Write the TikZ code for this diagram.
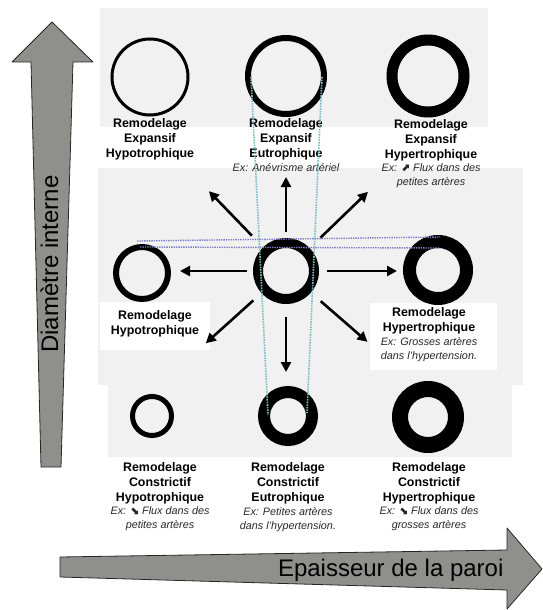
\documentclass[tikz,border=0pt]{standalone}
\usepackage{fontspec}
\setmainfont{Liberation Sans}
\newfontfamily\symbfont{DejaVu Sans}
\usetikzlibrary{positioning,calc,arrows.meta}

\definecolor{axisgray}{RGB}{143,143,139}
\definecolor{scangray}{RGB}{241,241,241}
\definecolor{tealdot}{RGB}{122,190,196}
\definecolor{violetdot}{RGB}{128,128,200}

\newcommand{\remfont}{\fontsize{12.4}{15}\selectfont\bfseries}
\newcommand{\exmplfont}{\fontsize{10.8}{14}\selectfont\itshape}
\newcommand{\axisfont}{\fontsize{24}{28}\selectfont}
\newcommand{\flechehaut}{{\symbfont\upshape\bfseries ⬈}}
\newcommand{\flechebas}{{\symbfont\upshape\bfseries ⬊}}

\begin{document}
\begin{tikzpicture}[x=1pt,y=-1pt,
    ring/.style={circle,draw,inner sep=0pt},
    title/.style={align=center,inner sep=0pt,font=\remfont},
    example/.style={align=center,inner sep=0pt,font=\exmplfont,text=black!85},
    spoke/.style={-{Triangle[length=10pt,width=10pt]},line width=2.6pt},
    axis/.style={fill=axisgray,draw=black!85,line width=0.8pt,line join=round},
    tealline/.style={tealdot,densely dotted,line width=1.6pt},
    violetline/.style={violetdot,densely dotted,line width=1.4pt}]
    \useasboundingbox (0,0) rectangle (542,610);

    % scanned background
    \fill[scangray] (100,8) rectangle (488,127);
    \fill[scangray] (98,168) rectangle (523,385);
    \fill[scangray] (108,385) rectangle (512,457);
    \fill[white] (100,302) rectangle (210,350);
    \fill[white] (370,303) rectangle (497,370);

    % axes
    \draw[axis] (52,22) -- (93,62) -- (73,62) -- (61,467) -- (41,467)
      -- (31,62) -- (12,62) -- cycle;
    \draw[axis] (60,557) -- (507,550) -- (507,528) -- (542,569)
      -- (507,609) -- (507,590) -- (60,577) -- cycle;
    \node[rotate=90,anchor=base,font=\axisfont] (diam) at (58,264) {Diamètre interne};
    \node[anchor=base east,font=\axisfont] (epais) at (507,576) {Epaisseur de la paroi};

    % vessels
    \node[ring,line width=3pt,minimum size=76pt] (exp-hypo) at (150,77) {};
    \node[ring,line width=6pt,minimum size=76pt] (exp-eu) at (286,76) {};
    \node[ring,line width=11pt,minimum size=72pt] (exp-hyper) at (428,76) {};
    \node[ring,line width=6pt,minimum size=52pt] (hypo) at (142,273) {};
    \node[ring,line width=10pt,minimum size=56pt] (norm) at (286,271) {};
    \node[ring,line width=13pt,minimum size=57pt] (hyper) at (438,270) {};
    \node[ring,line width=5pt,minimum size=39pt] (con-hypo) at (152,416) {};
    \node[ring,line width=12pt,minimum size=48pt] (con-eu) at (288,416) {};
    \node[ring,line width=16pt,minimum size=56pt] (con-hyper) at (428,417) {};

    % labels
    \node[title,below=1.5pt of exp-hypo] (exp-hypo-t) {Remodelage\\Expansif\\Hypotrophique};
    \node[title,below=1.5pt of exp-eu] (exp-eu-t) {Remodelage\\Expansif\\Eutrophique};
    \node[title,below=1.5pt of exp-hyper,xshift=3pt] (exp-hyper-t) {Remodelage\\Expansif\\Hypertrophique};
    \node[title,below=8pt of hypo,xshift=13pt] (hypo-t) {Remodelage\\Hypotrophique};
    \node[title,below=2pt of hyper,xshift=-9pt] (hyper-t) {Remodelage\\Hypertrophique};
    \node[title,anchor=north] (con-hypo-t) at (160,462) {Remodelage\\Constrictif\\Hypotrophique};
    \node[title,anchor=north] (con-eu-t) at (288,462) {Remodelage\\Constrictif\\Eutrophique};
    \node[title,anchor=north] (con-hyper-t) at (429,462) {Remodelage\\Constrictif\\Hypertrophique};

    \node[example,below=3pt of exp-eu-t] (exp-eu-ex) {Ex: Anévrisme artériel};
    \node[example,below=3pt of exp-hyper-t] (exp-hyper-ex) {Ex: \flechehaut{} Flux dans des\\petites artères};
    \node[example,below=3pt of hyper-t] (hyper-ex) {Ex: Grosses artères\\dans l'hypertension.};
    \node[example,below=3pt of con-hypo-t] (con-hypo-ex) {Ex: \flechebas{} Flux dans des\\petites artères};
    \node[example,below=3pt of con-eu-t] (con-eu-ex) {Ex: Petites artères\\dans l'hypertension.};
    \node[example,below=3pt of con-hyper-t] (con-hyper-ex) {Ex: \flechebas{} Flux dans des\\grosses artères};

    % remodelling directions
    \draw[spoke] (norm.center) ++(0:41) -- ++(0:70);
    \draw[spoke] (norm.center) ++(41:46) -- ++(41:62);
    \draw[spoke] (norm.center) ++(90:46) -- ++(90:55);
    \draw[spoke] (norm.center) ++(138:44) -- ++(138:64);
    \draw[spoke] (norm.center) ++(180:39) -- ++(180:67);
    \draw[spoke] (norm.center) ++(226:49) -- ++(226:62);
    \draw[spoke] (norm.center) ++(270:39) -- ++(270:55);
    \draw[spoke] (norm.center) ++(316:48) -- ++(316:66);

    % guide lines
    \draw[tealline] ($(exp-eu.center)+(-35,1)$) -- ($(con-eu.center)+(-20,-1)$);
    \draw[tealline] ($(exp-eu.center)+(36,1)$) -- ($(con-eu.center)+(19,-3)$);
    \draw[violetline] ($(hypo.center)+(-5,-32)$) -- ($(hyper.center)+(2,-33)$);
    \draw[violetline] ($(hypo.center)+(-2,-26)$) -- ($(hyper.center)+(2,-22)$);
\end{tikzpicture}
\end{document}
